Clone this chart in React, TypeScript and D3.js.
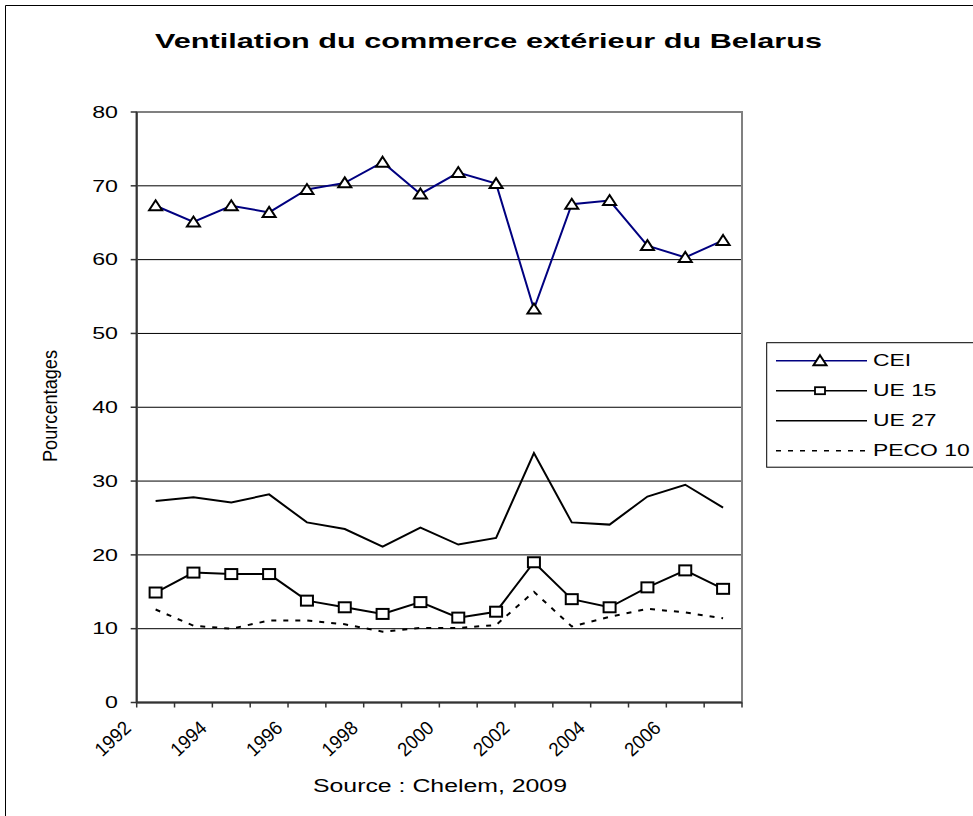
import React from "react";
import * as d3 from "d3";

const years = [1992, 1993, 1994, 1995, 1996, 1997, 1998, 1999, 2000, 2001, 2002, 2003, 2004, 2005, 2006, 2007];
const yearLabels = ["1992", "1994", "1996", "1998", "2000", "2002", "2004", "2006"];
const cei = [67.3, 65.1, 67.3, 66.4, 69.5, 70.4, 73.2, 68.9, 71.8, 70.3, 53.3, 67.5, 68.0, 61.9, 60.3, 62.6];
const ue15 = [14.9, 17.6, 17.4, 17.4, 13.8, 12.9, 12.0, 13.6, 11.5, 12.3, 19.0, 14.0, 12.9, 15.6, 17.9, 15.4];
const ue27 = [27.3, 27.8, 27.1, 28.2, 24.4, 23.5, 21.1, 23.7, 21.4, 22.3, 33.8, 24.4, 24.1, 27.9, 29.5, 26.4];
const peco10 = [12.6, 10.4, 10.0, 11.1, 11.1, 10.6, 9.6, 10.1, 10.1, 10.5, 15.0, 10.3, 11.6, 12.7, 12.2, 11.4];
const yTicks = [0, 10, 20, 30, 40, 50, 60, 70, 80];
const legendItems = ["CEI", "UE 15", "UE 27", "PECO 10"];

const FONT = "'Liberation Sans', Arial, sans-serif";
const SX = 1.45;

export default function App() {
  const left = 136.7, right = 742, top = 112, bottom = 702.5;
  const x = d3.scaleBand<number>().domain(years).range([left, right]);
  const bw = x.bandwidth();
  const cx = (yr: number) => (x(yr) as number) + bw / 2;
  const y = d3.scaleLinear().domain([0, 80]).range([bottom, top]);
  const line = d3.line<[number, number]>().x(d => d[0]).y(d => d[1]);
  const pts = (arr: number[]) => arr.map((v, i) => [cx(years[i]), y(v)] as [number, number]);

  const tri = (px: number, py: number, key: string) => (
    <path key={key} d={`M${px},${py - 5.5} L${px + 6.5},${py + 4.5} L${px - 6.5},${py + 4.5} Z`} fill="#fff" stroke="#000" strokeWidth={2} />
  );
  const sq = (px: number, py: number, key: string) => (
    <rect key={key} x={px - 6} y={py - 5} width={12} height={10} fill="#fff" stroke="#000" strokeWidth={2} />
  );

  const legendY = [360.7, 390.7, 420.7, 450.7];
  const lx1 = 776, lx2 = 867, lmid = 820;

  return (
    <svg width={973} height={816} style={{ position: "absolute", left: 0, top: 0, background: "#fff" }} fontFamily={FONT}>
      <rect x={0} y={0} width={973} height={816} fill="#fff" />
      {/* outer border (cropped) */}
      <line x1={5.5} y1={5.5} x2={973} y2={5.5} stroke="#000" strokeWidth={1} />
      <line x1={5.5} y1={5.5} x2={5.5} y2={816} stroke="#000" strokeWidth={1} />

      {/* title */}
      <text x={155} y={48.3} fontSize={21} fontWeight="bold" textLength={667} lengthAdjust="spacingAndGlyphs">
        Ventilation du commerce extérieur du Belarus
      </text>

      {/* gridlines */}
      {yTicks.filter(t => t > 0 && t < 80).map(t => (
        <line key={"g" + t} x1={left} x2={right} y1={y(t)} y2={y(t)} stroke="#000" strokeWidth={1} />
      ))}
      {/* plot border */}
      <rect x={left} y={top} width={right - left} height={bottom - top} fill="none" stroke="#808080" strokeWidth={2} />

      {/* y axis */}
      <line x1={left} x2={left} y1={top} y2={bottom} stroke="#333" strokeWidth={2} />
      {yTicks.map(t => (
        <g key={"yt" + t}>
          <line x1={left - 6} x2={left} y1={y(t)} y2={y(t)} stroke="#333" strokeWidth={1.5} />
          <g transform={`translate(118,${y(t) + 5.8}) scale(${SX},1)`}>
            <text textAnchor="end" fontSize={16}>{t}</text>
          </g>
        </g>
      ))}
      {/* x axis */}
      <line x1={left} x2={right} y1={bottom} y2={bottom} stroke="#333" strokeWidth={2} />
      {d3.range(years.length + 1).map(i => {
        const tx = left + i * bw;
        return <line key={"xt" + i} x1={tx} x2={tx} y1={bottom} y2={bottom + 5} stroke="#333" strokeWidth={1.5} />;
      })}
      {yearLabels.map(lbl => {
        const px = cx(+lbl) - 23.3;
        return (
          <g key={"xl" + lbl} transform={`translate(${px},729.5) rotate(-43)`}>
            <text textAnchor="end" fontSize={19.5} textLength={41} lengthAdjust="spacingAndGlyphs">{lbl}</text>
          </g>
        );
      })}

      {/* y axis label */}
      <g transform={`translate(56.5,406) rotate(-90) scale(1,1.45)`}>
        <text textAnchor="middle" fontSize={13.5} textLength={112} lengthAdjust="spacingAndGlyphs">Pourcentages</text>
      </g>

      {/* source */}
      <text x={313} y={792.3} fontSize={18} textLength={254} lengthAdjust="spacingAndGlyphs">Source : Chelem, 2009</text>

      {/* series */}
      <path d={line(pts(ue27)) as string} fill="none" stroke="#000" strokeWidth={2} />
      <path d={line(pts(peco10)) as string} fill="none" stroke="#000" strokeWidth={2} strokeDasharray="5,7" />
      <path d={line(pts(ue15)) as string} fill="none" stroke="#000" strokeWidth={2} />
      <path d={line(pts(cei)) as string} fill="none" stroke="#000080" strokeWidth={2} />
      {pts(ue15).map((p, i) => sq(p[0], p[1], "s" + i))}
      {pts(cei).map((p, i) => tri(p[0], p[1], "t" + i))}

      {/* legend */}
      <rect x={766.7} y={342.7} width={240} height={124.5} fill="#fff" stroke="#000" strokeWidth={1} />
      <line x1={lx1} x2={lx2} y1={legendY[0]} y2={legendY[0]} stroke="#000080" strokeWidth={1.5} />
      {tri(lmid, legendY[0], "lt")}
      <line x1={lx1} x2={lx2} y1={legendY[1]} y2={legendY[1]} stroke="#000" strokeWidth={1.5} />
      <rect x={lmid - 5} y={legendY[1] - 3.5} width={10} height={7} fill="#fff" stroke="#000" strokeWidth={1.8} />
      <line x1={lx1} x2={lx2} y1={legendY[2]} y2={legendY[2]} stroke="#000" strokeWidth={1.5} />
      <line x1={lx1} x2={lx2} y1={legendY[3]} y2={legendY[3]} stroke="#000" strokeWidth={1.5} strokeDasharray="5,7" />
      {legendItems.map((name, i) => (
        <g key={"lg" + i} transform={`translate(873,${legendY[i] + 5}) scale(1.43,1)`}>
          <text fontSize={16}>{name}</text>
        </g>
      ))}
    </svg>
  );
}
